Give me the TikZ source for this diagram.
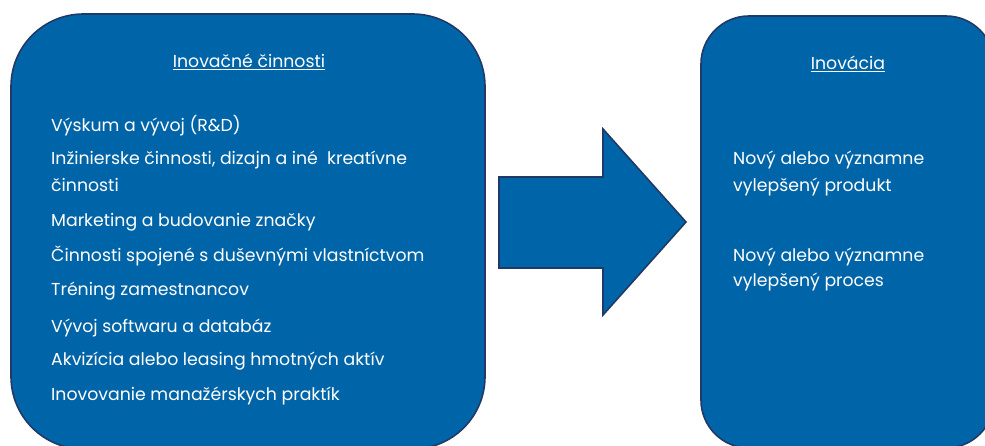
\documentclass[tikz,border=0pt]{standalone}
\usepackage{fontspec}
\setmainfont{Poppins}
\definecolor{boxblue}{HTML}{0065A8}
\definecolor{boxedge}{HTML}{1F3A66}
\begin{document}
\begin{tikzpicture}[x=1pt,y=-1pt,
  panel/.style={draw=boxedge, line width=1.6pt, fill=boxblue},
  item/.style={anchor=base west, inner sep=0pt, text=white, font=\fontsize{17.3}{21}\selectfont},
  heading/.style={anchor=base, inner sep=0pt, text=white, font=\fontsize{17.3}{21}\selectfont}]
\useasboundingbox (0,0) rectangle (985,446);
% panels
\node[panel, rounded corners=72.5pt, minimum width=474pt, minimum height=435pt, inner sep=0pt] (left) at (248,231.5) {};
\node[panel, rounded corners=48pt, minimum width=293pt, minimum height=432pt, inner sep=0pt] (right) at (847.5,232) {};
% big arrow
\draw[panel] (499,177) -- (603,177) -- (603,129) -- (686,222) -- (603,315) -- (603,268) -- (499,268) -- cycle;
% left texts
\node[heading] (lt) at (249,68) {\underline{Inovačné činnosti}};
\node[item] (l1) at (51,132) {Výskum a vývoj (R\&D)};
\node[item] (l2) at (51,165) {Inžinierske činnosti, dizajn a iné\ \ kreatívne};
\node[item] (l2b) at (51,192) {činnosti};
\node[item] (l3) at (51,227) {Marketing a budovanie značky};
\node[item] (l4) at (51,262) {Činnosti spojené s duševnými vlastníctvom};
\node[item] (l5) at (51,295) {Tréning zamestnancov};
\node[item] (l6) at (51,332) {Vývoj softwaru a databáz};
\node[item] (l7) at (51,365) {Akvizícia alebo leasing hmotných aktív};
\node[item] (l8) at (51,400) {Inovovanie manažérskych praktík};
% right texts
\node[heading] (rt) at (848,70) {\underline{Inovácia}};
\node[item] (r1) at (733,165) {Nový alebo významne};
\node[item] (r1b) at (733,192) {vylepšený produkt};
\node[item] (r2) at (733,262) {Nový alebo významne};
\node[item] (r2b) at (733,287) {vylepšený proces};
\end{tikzpicture}
\end{document}
